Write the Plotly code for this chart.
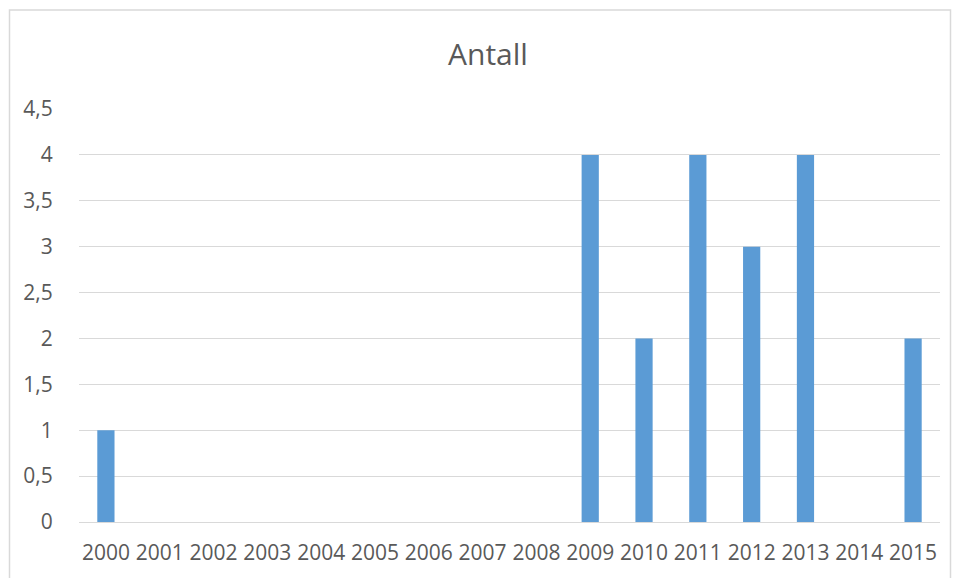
import plotly.graph_objects as go

years = [str(y) for y in range(2000, 2016)]
values = [1, 0, 0, 0, 0, 0, 0, 0, 0, 4, 2, 4, 3, 4, 0, 2]

L, R, T, B = 79, 16, 109, 54
W, H = 956, 578
pw, ph = W - L - R, H - T - B

def px(x):
    return (x - L) / pw

def py(y):
    return (H - B - y) / ph

fig = go.Figure(go.Bar(x=years, y=values, marker=dict(color="#5b9bd5", line=dict(width=0)), width=0.32))

fig.update_layout(
    width=W, height=H,
    margin=dict(l=L, r=R, t=T, b=B),
    paper_bgcolor="white", plot_bgcolor="white",
    separators=", ",
    showlegend=False,
    title=dict(text="Antall", x=px(488), xref="paper", xanchor="center",
               y=1 - 54 / H, yanchor="middle",
               font=dict(family="Open Sans", size=30, color="#595959")),
    font=dict(family="Open Sans", size=21, color="#595959"),
    xaxis=dict(showgrid=False, showline=True, linecolor="#d9d9d9", linewidth=1,
               ticks="outside", ticklen=12, tickcolor="rgba(0,0,0,0)",
               tickfont=dict(size=21, color="#595959")),
    yaxis=dict(range=[0, 4.5], dtick=0.5, showgrid=True, gridcolor="#d9d9d9", gridwidth=1,
               zeroline=False, showline=False,
               ticks="outside", ticklen=21, tickcolor="rgba(0,0,0,0)",
               tickfont=dict(size=21, color="#595959")),
    shapes=[dict(type="rect", xref="paper", yref="paper",
                 x0=px(9.5), x1=px(950.5), y0=py(590), y1=py(9.5),
                 line=dict(color="#d9d9d9", width=1.5), fillcolor="rgba(0,0,0,0)", layer="below")],
)

fig.write_html("out.html")
